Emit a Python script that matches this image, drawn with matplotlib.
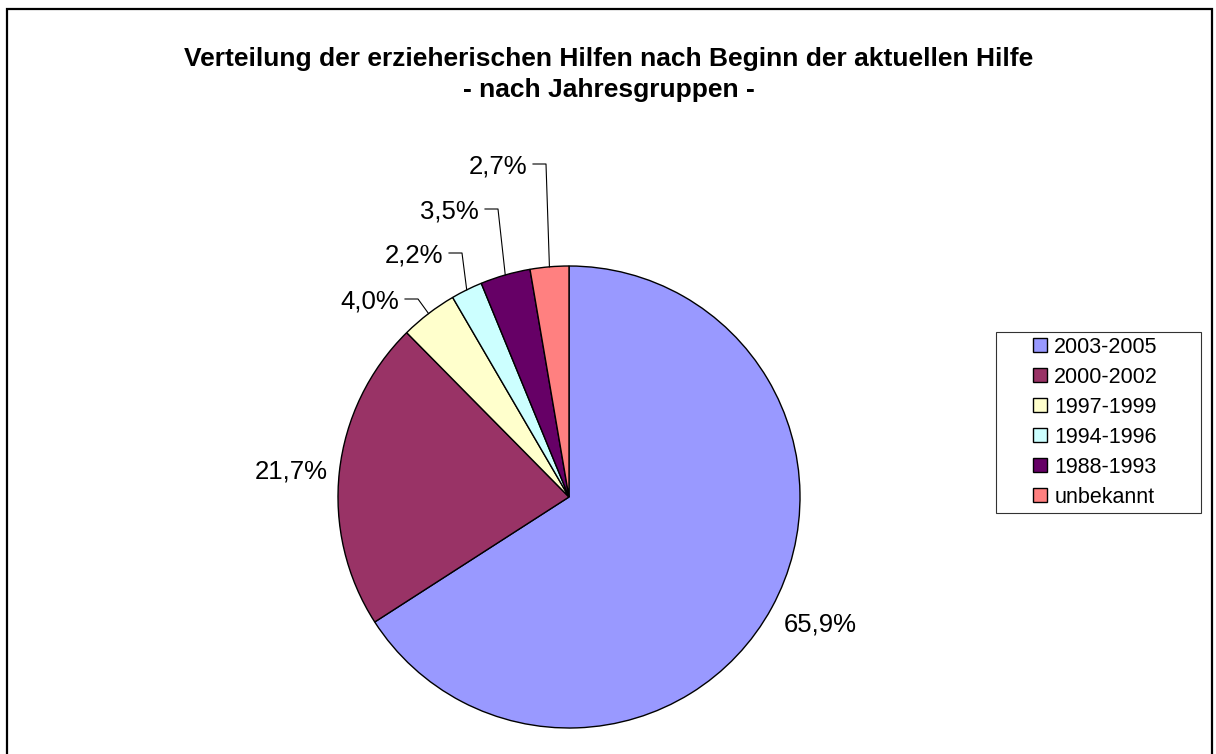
import numpy as np
import matplotlib.pyplot as plt
from matplotlib.patches import Rectangle
from matplotlib.legend_handler import HandlerPatch

plt.rcParams['font.family'] = ['Liberation Sans', 'DejaVu Sans']

categories = ['2003-2005', '2000-2002', '1997-1999', '1994-1996', '1988-1993', 'unbekannt']
shares = [65.9, 21.7, 4.0, 2.2, 3.5, 2.7]
colors = ['#9999FF', '#993366', '#FFFFCC', '#CCFFFF', '#660066', '#FF8080']
title_lines = ['Verteilung der erzieherischen Hilfen nach Beginn der aktuellen Hilfe',
               '- nach Jahresgruppen -']

W, H = 1216, 754
CX, CY, R = 569, 497, 231
# elbow points of the leader lines (pixel coords) for the small slices
elbows = {2: (418, 299), 3: (462, 253), 4: (498, 209), 5: (546, 164)}
# small pixel nudges for the big outside labels
nudges = {0: (6, 9), 1: (0, -3)}


def Y(py):
    return H - py


def square_handle(legend, orig_handle, xdescent, ydescent, width, height, fontsize):
    s = 10.0  # points
    return Rectangle((width - s - xdescent, (height - s) / 2 - ydescent), s, s)


fig = plt.figure(figsize=(W / 100, H / 100), dpi=100)
fig.patch.set_facecolor('white')
ax = fig.add_axes([0, 0, 1, 1])

wedges, _ = ax.pie(shares, colors=colors, startangle=90, counterclock=False,
                   center=(CX, Y(CY)), radius=R, frame=True,
                   wedgeprops=dict(edgecolor='black', linewidth=1.0))
ax.set_xlim(0, W)
ax.set_ylim(0, H)
ax.set_aspect('equal')
ax.axis('off')

# outer chart frame
ax.add_patch(Rectangle((7, Y(780)), 1205, 771, fill=False, edgecolor='black', linewidth=1.6))

for i, (w, v) in enumerate(zip(wedges, shares)):
    mid = np.deg2rad((w.theta1 + w.theta2) / 2)
    txt = f'{v:.1f}%'.replace('.', ',')
    if i in elbows:
        ax_, ay_ = CX + R * np.cos(mid), Y(CY) + R * np.sin(mid)
        ex, ey = elbows[i]
        ax.plot([ax_, ex, ex - 13], [ay_, Y(ey), Y(ey)], color='black', linewidth=0.8)
        ax.text(ex - 19, Y(ey), txt, ha='right', va='center_baseline', fontsize=18.5)
    else:
        d = R * 1.21
        nx, ny = nudges.get(i, (0, 0))
        ax.text(CX + d * np.cos(mid) + nx, Y(CY) + d * np.sin(mid) + ny, txt,
                ha='center', va='center_baseline', fontsize=18.5)

for k, line in enumerate(title_lines):
    ax.text(609, Y(66 + 31 * k), line, ha='center', va='baseline',
            fontsize=19, fontweight='bold')

leg = ax.legend(wedges, categories, loc='upper left',
                bbox_to_anchor=(996 / W, 1 - 332 / H - 0.2, 205 / W, 0.2), mode='expand',
                bbox_transform=fig.transFigure, borderaxespad=0,
                frameon=True, fancybox=False, fontsize=15.5,
                handler_map={w: HandlerPatch(patch_func=square_handle) for w in wedges},
                handlelength=2.16, handleheight=0.65, handletextpad=0.33,
                labelspacing=0.42, borderpad=0.22)
leg.get_frame().set_edgecolor('black')
leg.get_frame().set_linewidth(0.8)

fig.savefig('out.png', dpi=100, facecolor='white')
